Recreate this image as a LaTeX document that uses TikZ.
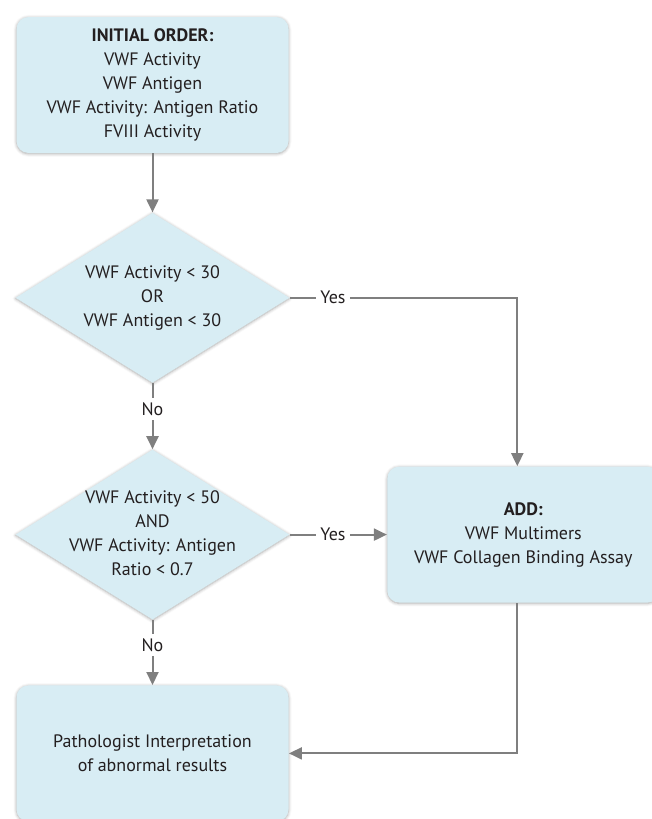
\documentclass[tikz,border=0pt]{standalone}
\usepackage{fontspec}
\setmainfont{PT Sans}
\usetikzlibrary{arrows.meta,positioning,shapes.geometric,shadows.blur}

\definecolor{boxfill}{HTML}{D8EDF4}
\definecolor{linegray}{HTML}{7F7F7F}
\definecolor{inkdark}{HTML}{231F20}

\newcommand{\condlines}[1]{\makebox[0pt]{\begin{tabular}{@{}c@{}}#1\end{tabular}}}

\begin{document}
\begin{tikzpicture}[
    node distance=30pt and 48pt,
    box/.style={rounded corners=6pt, fill=boxfill, align=center, minimum width=136pt, minimum height=68pt, text=inkdark, font=\fontsize{9}{12}\selectfont, blur shadow={shadow xshift=0pt, shadow yshift=-0.4pt, shadow blur radius=1.5pt, shadow opacity=35}},
    decision/.style={diamond, fill=boxfill, inner sep=0pt, minimum width=137pt, minimum height=85pt, text=inkdark, font=\fontsize{9}{12}\selectfont, blur shadow={shadow xshift=0pt, shadow yshift=-0.4pt, shadow blur radius=1.5pt, shadow opacity=35}},
    lbl/.style={inner sep=2pt, text=inkdark, font=\fontsize{9}{12}\selectfont},
    link/.style={line width=1pt, draw=linegray},
    arrow/.style={link, -{Triangle[length=6.5pt, width=6pt]}}
  ]
    \useasboundingbox (0,0) rectangle (326pt,-409.5pt);

    \node[box] (init) at (76.25pt,-42.5pt) {\textbf{INITIAL ORDER:}\\VWF Activity\\VWF Antigen\\VWF Activity: Antigen Ratio\\FVIII Activity};
    \node[decision, below=29.5pt of init] (dec1) {\condlines{VWF Activity < 30\\OR\\VWF Antigen < 30}};
    \node[decision, below=33pt of dec1] (dec2) {\condlines{VWF Activity < 50\\AND\\VWF Activity: Antigen\\Ratio < 0.7}};
    \node[box, below=32.5pt of dec2] (final) {Pathologist Interpretation\\of abnormal results};
    \node[box, right=48.5pt of dec2] (add) {\textbf{ADD:}\\VWF Multimers\\VWF Collagen Binding Assay};

    % branch labels
    \node[lbl, right=13pt of dec1] (yes1) {Yes};
    \node[lbl, below=7.5pt of dec1] (no1) {No};
    \node[lbl, right=13pt of dec2] (yes2) {Yes};
    \node[lbl, below=7pt of dec2] (no2) {No};

    \draw[arrow] (init) -- (dec1);
    \draw[link] (dec1) -- (yes1);
    \draw[arrow] (yes1) -| ([xshift=-3pt]add.north);
    \draw[link] (dec1) -- (no1);
    \draw[arrow] (no1) -- (dec2);
    \draw[link] (dec2) -- (yes2);
    \draw[arrow] (yes2) -- (add);
    \draw[link] (dec2) -- (no2);
    \draw[arrow] (no2) -- (final);
    \draw[arrow] ([xshift=-3pt]add.south) |- (final);
  \end{tikzpicture}
\end{document}
